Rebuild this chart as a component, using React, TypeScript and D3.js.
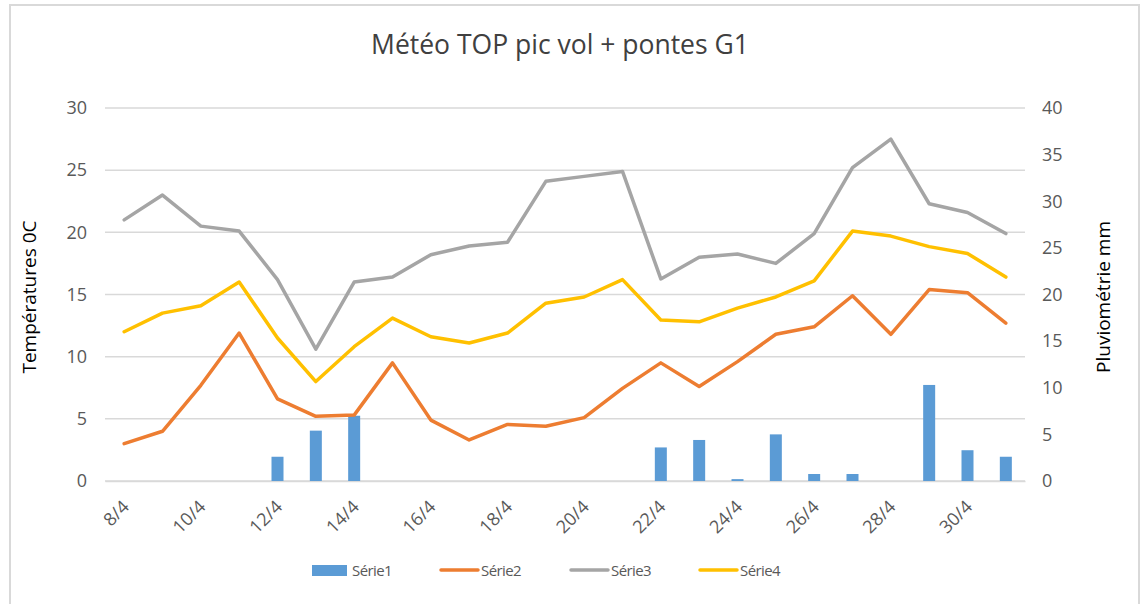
import React, { useEffect, useRef } from 'react';
import * as d3 from 'd3';

const days = ['8/4', '9/4', '10/4', '11/4', '12/4', '13/4', '14/4', '15/4', '16/4', '17/4', '18/4', '19/4',
  '20/4', '21/4', '22/4', '23/4', '24/4', '25/4', '26/4', '27/4', '28/4', '29/4', '30/4', '1/5'];

// pluviométrie (mm), right axis
const serie1 = [0, 0, 0, 0, 2.6, 5.4, 7.0, 0, 0, 0, 0, 0, 0, 0, 3.6, 4.4, 0.2, 5.0, 0.75, 0.75, 0, 10.3, 3.3, 2.6];
// températures (°C), left axis
const serie2 = [3.0, 4.0, 7.7, 11.9, 6.6, 5.2, 5.3, 9.5, 4.9, 3.3, 4.55, 4.4, 5.1, 7.45, 9.5, 7.6, 9.6, 11.8, 12.4, 14.9, 11.8, 15.4, 15.15, 12.7];
const serie3 = [21.0, 23.0, 20.5, 20.1, 16.2, 10.6, 16.0, 16.4, 18.2, 18.9, 19.2, 24.1, 24.5, 24.9, 16.25, 18.0, 18.26, 17.5, 19.9, 25.2, 27.5, 22.3, 21.6, 19.9];
const serie4 = [12.0, 13.5, 14.1, 16.0, 11.5, 8.0, 10.8, 13.1, 11.6, 11.1, 11.9, 14.3, 14.8, 16.2, 12.95, 12.8, 13.9, 14.8, 16.1, 20.1, 19.7, 18.85, 18.3, 16.4];

const leftTicks = [0, 5, 10, 15, 20, 25, 30];
const rightTicks = [0, 5, 10, 15, 20, 25, 30, 35, 40];

const lineSeries = [
  { name: 'Série2', values: serie2, color: '#ED7D31' },
  { name: 'Série3', values: serie3, color: '#A5A5A5' },
  { name: 'Série4', values: serie4, color: '#FFC000' },
];

const W = 1144;
const H = 604;
const FONT = '"Open Sans", "Noto Sans", sans-serif';

const App: React.FC = () => {
  const ref = useRef<SVGSVGElement>(null);

  useEffect(() => {
    const svg = d3.select(ref.current);
    svg.selectAll('*').remove();

    const m = { left: 105, right: 1025, top: 108, bottom: 481 };

    svg.append('rect')
      .attr('x', 10).attr('y', 5)
      .attr('width', 1129).attr('height', 610)
      .attr('fill', '#fff').attr('stroke', '#d9d9d9').attr('stroke-width', 2);

    svg.append('text')
      .attr('x', 560).attr('y', 54)
      .attr('text-anchor', 'middle')
      .attr('font-family', FONT).attr('font-size', 26.5)
      .attr('fill', '#404040')
      .text('Météo TOP pic vol + pontes G1');

    const x = d3.scaleBand<string>().domain(days).range([m.left, m.right]);
    const yL = d3.scaleLinear().domain([0, 30]).range([m.bottom, m.top]);
    const yR = d3.scaleLinear().domain([0, 40]).range([m.bottom, m.top]);

    // gridlines
    svg.append('g').selectAll('line')
      .data(leftTicks)
      .join('line')
      .attr('x1', m.left).attr('x2', m.right)
      .attr('y1', d => yL(d)).attr('y2', d => yL(d))
      .attr('stroke', '#d9d9d9').attr('stroke-width', 1.5);

    // left axis
    const gl = svg.append('g')
      .attr('transform', `translate(${m.left},0)`)
      .call(d3.axisLeft(yL).tickValues(leftTicks).tickSize(0).tickPadding(18));
    gl.select('.domain').remove();
    gl.selectAll('text').attr('font-family', FONT).attr('font-size', 18).attr('fill', '#595959');

    // right axis
    const gr = svg.append('g')
      .attr('transform', `translate(${m.right},0)`)
      .call(d3.axisRight(yR).tickValues(rightTicks).tickSize(0).tickPadding(17));
    gr.select('.domain').remove();
    gr.selectAll('text').attr('font-family', FONT).attr('font-size', 18).attr('fill', '#595959');

    // bottom axis
    const gb = svg.append('g')
      .attr('transform', `translate(0,${m.bottom})`)
      .call(d3.axisBottom(x).tickValues(days.filter((_, i) => i % 2 === 0)).tickSize(0));
    gb.select('.domain').attr('stroke', '#d9d9d9').attr('stroke-width', 1.5);
    gb.selectAll('text')
      .attr('font-family', FONT).attr('font-size', 18).attr('fill', '#595959')
      .attr('text-anchor', 'end')
      .attr('dy', 0)
      .attr('y', 0)
      .attr('transform', 'translate(6,27) rotate(-45)');

    // axis titles
    svg.append('text')
      .attr('transform', 'translate(36,297) rotate(-90)')
      .attr('text-anchor', 'middle')
      .attr('font-family', FONT).attr('font-size', 19).attr('fill', '#000')
      .text('Températures 0C');
    svg.append('text')
      .attr('transform', 'translate(1110,297) rotate(-90)')
      .attr('text-anchor', 'middle')
      .attr('font-family', FONT).attr('font-size', 19).attr('fill', '#000')
      .text('Pluviométrie mm');

    // bars (Série1)
    const bw = 12;
    svg.append('g').selectAll('rect')
      .data(serie1.map((v, i) => ({ v, d: days[i] })).filter(p => p.v > 0))
      .join('rect')
      .attr('x', p => x(p.d)! + x.bandwidth() / 2 - bw / 2)
      .attr('y', p => yR(p.v))
      .attr('width', bw)
      .attr('height', p => m.bottom - yR(p.v))
      .attr('fill', '#5B9BD5');

    // lines
    const line = d3.line<number>()
      .x((_, i) => x(days[i])! + x.bandwidth() / 2)
      .y(v => yL(v));
    lineSeries.forEach(s => {
      svg.append('path')
        .datum(s.values)
        .attr('d', line)
        .attr('fill', 'none')
        .attr('stroke', s.color)
        .attr('stroke-width', 3.5)
        .attr('stroke-linejoin', 'round')
        .attr('stroke-linecap', 'round');
    });

    // legend
    const leg = svg.append('g');
    const items = [
      { name: 'Série1', color: '#5B9BD5', bar: true, x: 312 },
      { name: 'Série2', color: '#ED7D31', bar: false, x: 441 },
      { name: 'Série3', color: '#A5A5A5', bar: false, x: 571 },
      { name: 'Série4', color: '#FFC000', bar: false, x: 700 },
    ];
    items.forEach(it => {
      if (it.bar) {
        leg.append('rect').attr('x', it.x).attr('y', 565).attr('width', 35).attr('height', 11).attr('fill', it.color);
      } else {
        leg.append('line')
          .attr('x1', it.x).attr('x2', it.x + 37)
          .attr('y1', 570).attr('y2', 570)
          .attr('stroke', it.color).attr('stroke-width', 3.5).attr('stroke-linecap', 'round');
      }
      leg.append('text')
        .attr('x', it.x + (it.bar ? 40 : 40)).attr('y', 576)
        .attr('font-family', FONT).attr('font-size', 15).attr('fill', '#595959')
        .attr('letter-spacing', -0.6)
        .text(it.name);
    });
  }, []);

  return <svg ref={ref} width={W} height={H} style={{ display: 'block', position: 'absolute', left: 0, top: 0 }} />;
};

export default App;
